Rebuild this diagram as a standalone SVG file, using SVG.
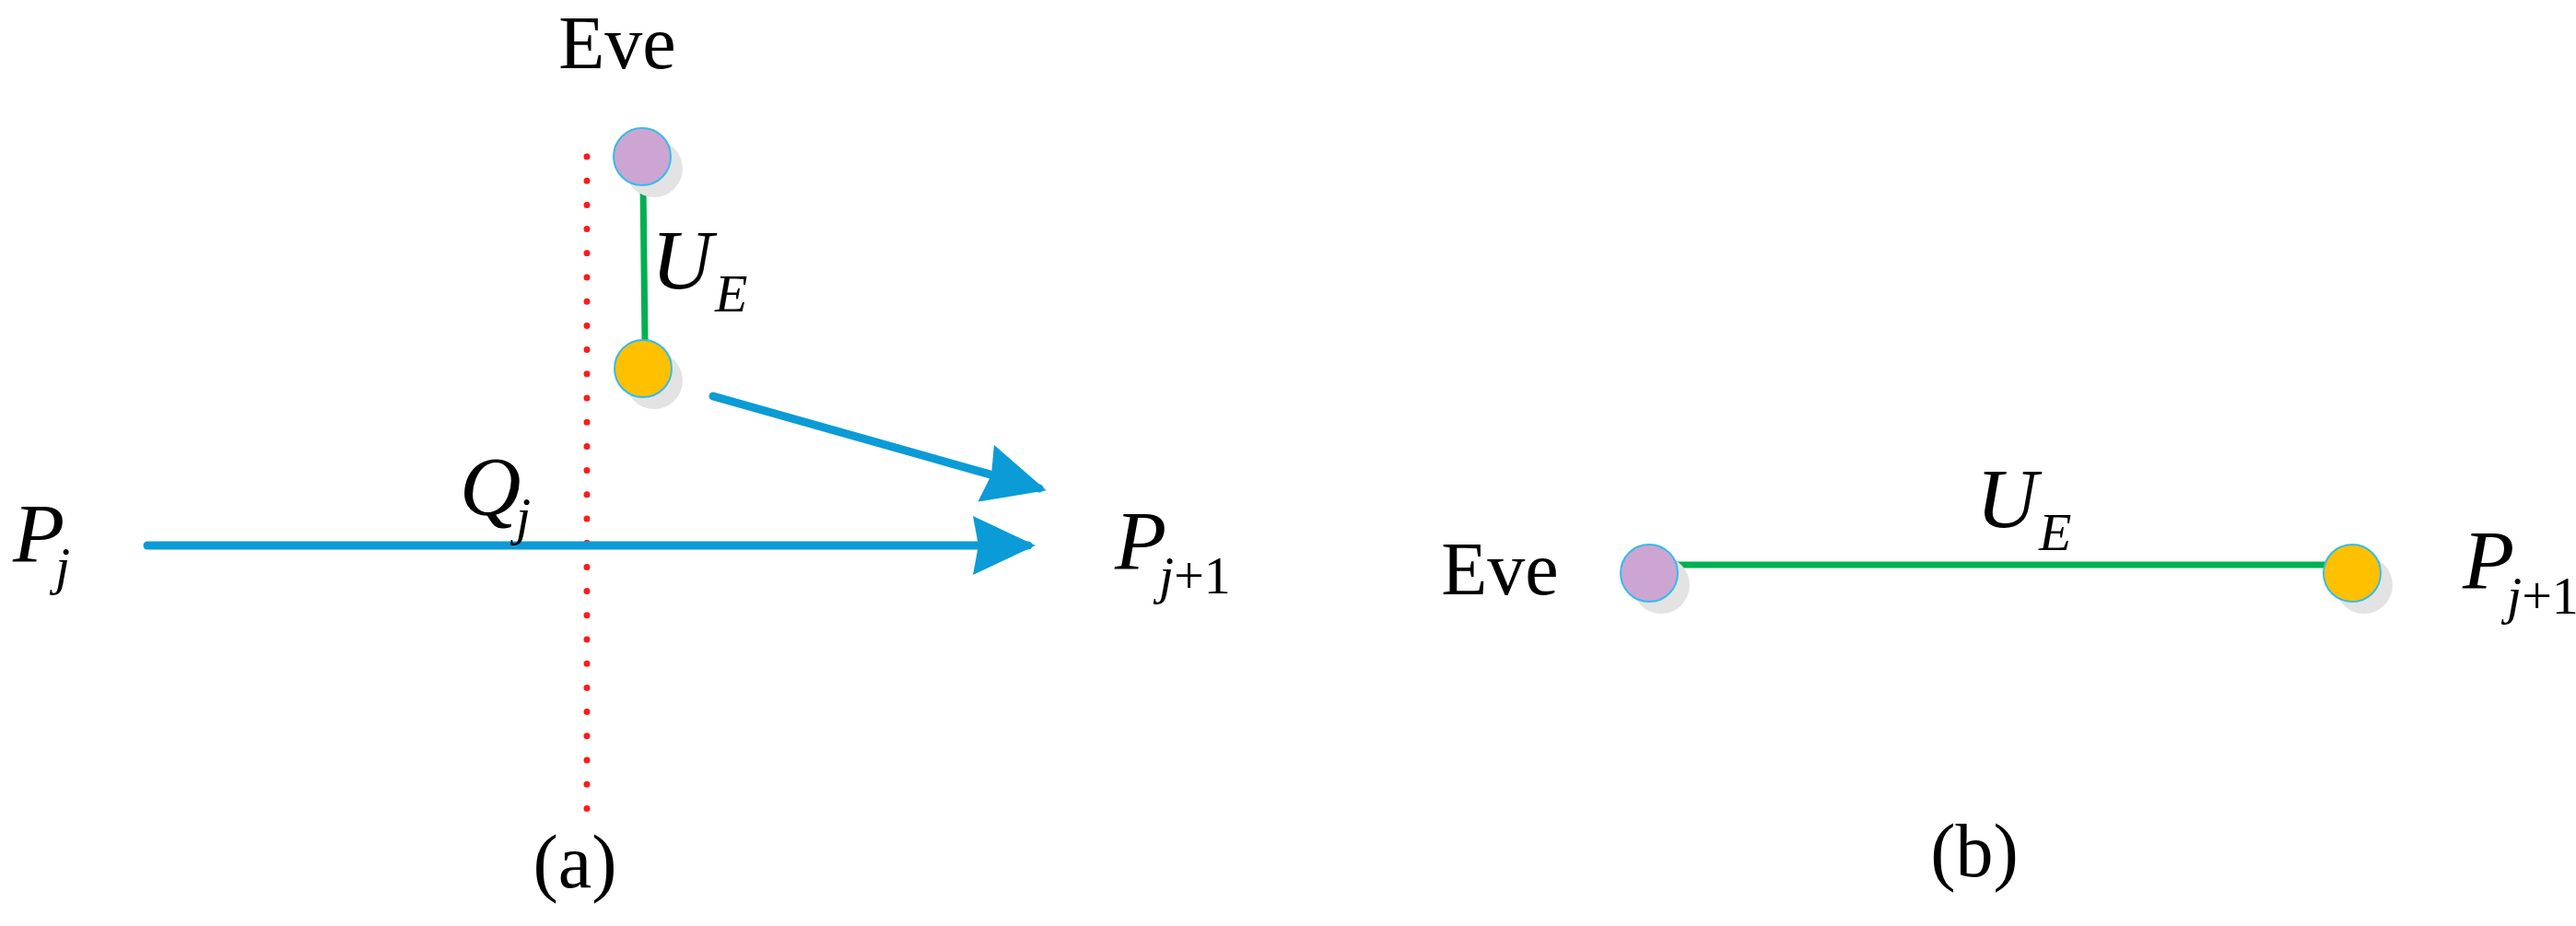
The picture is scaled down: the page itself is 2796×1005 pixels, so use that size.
<svg xmlns="http://www.w3.org/2000/svg" width="2796" height="1005" viewBox="0 0 2796 1005">
<style>
text{font-family:"Liberation Serif","Times New Roman",serif;fill:#000}
.it{font-style:italic}
.shadow{fill:#e3e3e3}
.node{stroke:#33bbee;stroke-width:2}
.purple{fill:#cda5d2}
.yellow{fill:#ffc000}
.blue{stroke:#0b9bd6;stroke-width:9;stroke-linecap:round;fill:none}
.green{stroke:#00b050;stroke-width:7;stroke-linecap:round}
</style>
<defs>
<marker id="ah" markerUnits="userSpaceOnUse" markerWidth="72" markerHeight="64" refX="60" refY="32" orient="auto" viewBox="0 0 72 64">
<path d="M0,0 L68,32 L0,64 L6,32 z" fill="#0b9bd6"/>
</marker>
</defs>
<rect width="2796" height="1005" fill="#fff"/>
<g id="connectors">
<line x1="637" y1="170" x2="637" y2="890" stroke="#ff1a1a" stroke-width="7" stroke-linecap="round" stroke-dasharray="0 26.2"/>
<line class="green" x1="698" y1="200" x2="700" y2="369"/>
<line class="blue" x1="774" y1="430" x2="1128" y2="530" marker-end="url(#ah)"/>
<line class="blue" x1="160" y1="592" x2="1116" y2="592" marker-end="url(#ah)"/>
<line class="green" x1="1819" y1="613" x2="2525" y2="613"/>
</g>
<g id="eve-a">
<circle class="shadow" cx="710" cy="183" r="31"/>
<circle class="node purple" cx="697" cy="170" r="31"/>
<text x="670" y="74" font-size="82" text-anchor="middle">Eve</text>
</g>
<g id="point-a">
<circle class="shadow" cx="710" cy="413" r="31"/>
<circle class="node yellow" cx="698" cy="400" r="31"/>
</g>
<g id="labels-a">
<text class="it" x="707" y="313" font-size="92">U</text>
<text class="it" x="776" y="338" font-size="58">E</text>
<text class="it" x="499" y="559" font-size="92">Q</text>
<text class="it" x="560" y="580" font-size="58">j</text>
<text class="it" x="14" y="610" font-size="92">P</text>
<text class="it" x="60" y="634" font-size="58">j</text>
<text class="it" x="1210" y="618" font-size="92">P</text>
<text x="1258" y="644" font-size="58"><tspan class="it">j</tspan>+1</text>
<text x="624" y="963" font-size="82" text-anchor="middle">(a)</text>
</g>
<g id="eve-b">
<circle class="shadow" cx="1803" cy="635" r="31"/>
<circle class="node purple" cx="1790" cy="622" r="31"/>
<text x="1628" y="645" font-size="82" text-anchor="middle">Eve</text>
</g>
<g id="point-b">
<circle class="shadow" cx="2566" cy="635" r="31"/>
<circle class="node yellow" cx="2553" cy="622" r="31"/>
<text class="it" x="2673" y="639" font-size="92">P</text>
<text x="2721" y="666" font-size="58"><tspan class="it">j</tspan>+1</text>
</g>
<g id="labels-b">
<text class="it" x="2145" y="572" font-size="92">U</text>
<text class="it" x="2213" y="597" font-size="58">E</text>
<text x="2143" y="951" font-size="82" text-anchor="middle">(b)</text>
</g>
</svg>
